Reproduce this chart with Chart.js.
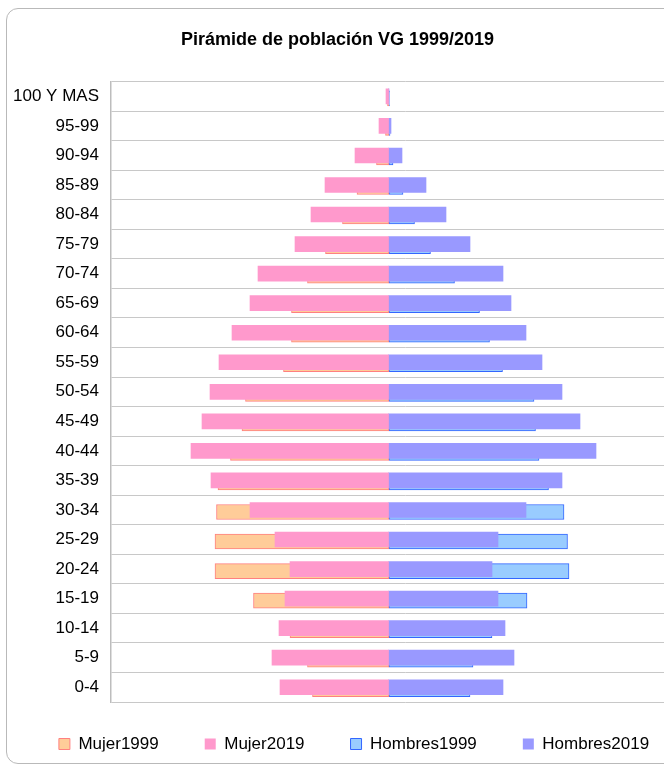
<!DOCTYPE html>
<html lang="es">
<head>
<meta charset="UTF-8">
<title>Pirámide de población VG 1999/2019</title>
<script src="https://cdn.jsdelivr.net/npm/chart.js"></script>
<style>
  body { margin: 0; background: #fff; overflow: hidden; width: 664px; height: 764px; }
  #frame { position: absolute; left: 6px; top: 8px; width: 720px; height: 754px;
           border: 1px solid #b9b9b9; border-radius: 12px; }
  #pyr { position: absolute; left: 0; top: 0; }
</style>
</head>
<body>
<div id="frame"></div>
<canvas id="pyr" width="700" height="764"></canvas>
<script>
// age groups, bottom to top (axis is reversed so 100 Y MAS ends up on top)
const ageGroups = ['0-4', '5-9', '10-14', '15-19', '20-24', '25-29', '30-34', '35-39', '40-44', '45-49',
  '50-54', '55-59', '60-64', '65-69', '70-74', '75-79', '80-84', '85-89', '90-94', '95-99', '100 Y MAS'];

// values (women plotted to the left)
const mujer1999 = [765, 815, 990, 1355, 1740, 1740, 1725, 1710, 1585, 1470,
  1435, 1055, 975, 975, 815, 635, 465, 320, 125, 35, 15];
const mujer2019 = [1085, 1165, 1095, 1035, 985, 1135, 1385, 1775, 1975, 1865,
  1785, 1695, 1565, 1385, 1305, 935, 775, 635, 335, 95, 25];
const hombres1999 = [810, 840, 1030, 1380, 1800, 1785, 1750, 1595, 1500, 1465,
  1450, 1135, 1005, 905, 655, 415, 255, 140, 40, 10, 5];
const hombres2019 = [1145, 1255, 1165, 1095, 1035, 1095, 1375, 1735, 2075, 1915,
  1735, 1535, 1375, 1225, 1145, 815, 575, 375, 135, 25, 5];

const FONT = "'Liberation Sans', Arial, sans-serif";
Chart.defaults.color = '#000';
Chart.defaults.font.family = FONT;

const OLD_SETS = [0, 2]; // the 1999 datasets

// 1999 bars sit a little lower behind the 2019 ones; title/legend nudged
const tweaks = {
  id: 'tweaks',
  afterLayout(chart) {
    const lg = chart.legend;
    lg.top -= 12.5; lg.bottom -= 12.5;
    lg.left += 4; lg.right += 4;
    const tt = chart.titleBlock;
    tt.left -= 12.5; tt.right -= 12.5;
  },
  beforeDatasetDraw(chart, args) {
    if (OLD_SETS.includes(args.index)) {
      chart.ctx.save();
      chart.ctx.translate(0.5, 2);
    }
  },
  afterDatasetDraw(chart, args) {
    if (OLD_SETS.includes(args.index)) chart.ctx.restore();
  }
};

new Chart(document.getElementById('pyr'), {
  type: 'bar',
  data: {
    labels: ageGroups,
    datasets: [
      { label: 'Mujer1999', data: mujer1999.map(v => -v), order: 1, grouped: false, barThickness: 15,
        backgroundColor: '#FFCC99', borderColor: '#FF8080', borderWidth: 1, borderSkipped: false },
      { label: 'Mujer2019', data: mujer2019.map(v => -v), order: 0, grouped: false, barThickness: 15,
        backgroundColor: '#FF99CC', borderWidth: 0 },
      { label: 'Hombres1999', data: hombres1999, order: 1, grouped: false, barThickness: 15,
        backgroundColor: '#99CCFF', borderColor: '#3366FF', borderWidth: 1, borderSkipped: false },
      { label: 'Hombres2019', data: hombres2019, order: 0, grouped: false, barThickness: 15,
        backgroundColor: '#9999FF', borderWidth: 0 }
    ]
  },
  options: {
    indexAxis: 'y',
    responsive: false,
    animation: false,
    layout: { padding: 0 },
    scales: {
      x: { display: false, min: -2775, max: 3115 },
      y: {
        reverse: true,
        grid: { color: '#c8c8c8', drawTicks: false },
        border: { color: '#bdbdbd', width: 1.5 },
        ticks: { padding: 12, font: { size: 17 }, color: '#000' },
        afterFit(scale) { scale.width = 111; }
      }
    },
    plugins: {
      title: {
        display: true,
        text: 'Pirámide de población VG 1999/2019',
        font: { size: 18, weight: 'bold' },
        color: '#000',
        padding: { top: 29, bottom: 31 }
      },
      legend: {
        position: 'bottom',
        maxHeight: 62,
        labels: {
          boxWidth: 11, boxHeight: 11, padding: 46,
          font: { size: 17 }, color: '#000',
          sort: (a, b) => a.datasetIndex - b.datasetIndex
        }
      },
      tooltip: { enabled: false }
    }
  },
  plugins: [tweaks]
});
</script>
</body>
</html>
